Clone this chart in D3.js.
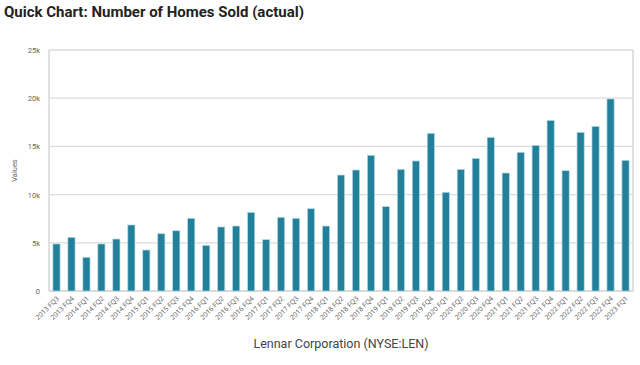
<!DOCTYPE html>
<html>
<head>
<meta charset="utf-8">
<script src="https://cdn.jsdelivr.net/npm/d3@7"></script>
<style>
  body { margin: 0; background: #fff; }
  svg { display: block; }
</style>
</head>
<body>
<svg id="chart" width="640" height="365"></svg>
<script>
// quarters shown on the x axis
const quarters = [
  "2013 FQ3", "2013 FQ4",
  "2014 FQ1", "2014 FQ2", "2014 FQ3", "2014 FQ4",
  "2015 FQ1", "2015 FQ2", "2015 FQ3", "2015 FQ4",
  "2016 FQ1", "2016 FQ2", "2016 FQ3", "2016 FQ4",
  "2017 FQ1", "2017 FQ2", "2017 FQ3", "2017 FQ4",
  "2018 FQ1", "2018 FQ2", "2018 FQ3", "2018 FQ4",
  "2019 FQ1", "2019 FQ2", "2019 FQ3", "2019 FQ4",
  "2020 FQ1", "2020 FQ2", "2020 FQ3", "2020 FQ4",
  "2021 FQ1", "2021 FQ2", "2021 FQ3", "2021 FQ4",
  "2022 FQ1", "2022 FQ2", "2022 FQ3", "2022 FQ4",
  "2023 FQ1"
];

// homes sold per quarter
const homesSold = [
  4880, 5570,
  3500, 4880, 5390, 6850,
  4250, 5940, 6250, 7540,
  4740, 6640, 6740, 8160,
  5330, 7640, 7540, 8540,
  6740, 12030, 12550, 14080,
  8750, 12620, 13490, 16360,
  10240, 12620, 13760, 15940,
  12240, 14390, 15110, 17700,
  12480, 16460, 17080, 19920,
  13560
];

const yTicks = [0, 5000, 10000, 15000, 20000, 25000];

const margin = { top: 50, right: 7, bottom: 74, left: 49 };
const width = 640, height = 365;

const svg = d3.select("#chart");

const x = d3.scaleBand()
  .domain(quarters)
  .range([margin.left, width - margin.right])
  .paddingInner(0.52)
  .paddingOuter(0.26);

const y = d3.scaleLinear()
  .domain([0, 25000])
  .range([height - margin.bottom, margin.top]);

// title
svg.append("text")
  .attr("x", 4)
  .attr("y", 17)
  .attr("font-family", "Roboto, sans-serif")
  .attr("font-weight", "bold")
  .attr("font-size", 15)
  .attr("fill", "#222")
  .text("Quick Chart: Number of Homes Sold (actual)");

// gridlines
svg.append("g")
  .selectAll("line")
  .data(yTicks.slice(1))
  .join("line")
  .attr("x1", margin.left)
  .attr("x2", width - margin.right)
  .attr("y1", d => y(d))
  .attr("y2", d => y(d))
  .attr("stroke", "#dcdcdc")
  .attr("stroke-width", 1.3);

// frame: left, right and bottom lines
const plotBottom = y(0);
svg.append("line")
  .attr("x1", margin.left).attr("x2", margin.left)
  .attr("y1", margin.top).attr("y2", plotBottom)
  .attr("stroke", "#cfcfcf").attr("stroke-width", 1.3);
svg.append("line")
  .attr("x1", width - margin.right).attr("x2", width - margin.right)
  .attr("y1", margin.top).attr("y2", plotBottom)
  .attr("stroke", "#cfcfcf").attr("stroke-width", 1.3);
svg.append("line")
  .attr("x1", margin.left).attr("x2", width - margin.right)
  .attr("y1", plotBottom).attr("y2", plotBottom)
  .attr("stroke", "#cfcfcf").attr("stroke-width", 1.3);

// y axis labels
const yAxis = d3.axisLeft(y)
  .tickValues(yTicks)
  .tickSize(0)
  .tickPadding(9)
  .tickFormat(d => d === 0 ? "0" : (d / 1000) + "k");

svg.append("g")
  .attr("transform", `translate(${margin.left},0)`)
  .call(yAxis)
  .call(g => g.select(".domain").remove())
  .selectAll("text")
  .attr("font-family", "Roboto, sans-serif")
  .attr("font-size", 7.5)
  .attr("fill", "#666");

svg.append("text")
  .attr("transform", `translate(17,${(margin.top + plotBottom) / 2}) rotate(-90)`)
  .attr("text-anchor", "middle")
  .attr("font-family", "Roboto, sans-serif")
  .attr("font-size", 7.5)
  .attr("fill", "#666")
  .text("Values");

// bars
svg.append("g")
  .selectAll("rect")
  .data(quarters.map((q, i) => ({ q, v: homesSold[i] })))
  .join("rect")
  .attr("x", d => x(d.q))
  .attr("y", d => y(d.v))
  .attr("width", x.bandwidth())
  .attr("height", d => plotBottom - y(d.v))
  .attr("fill", "#22809a")
  .attr("stroke", "#b5dbe4")
  .attr("stroke-width", 0.7);

// x axis labels, rotated
const xAxis = d3.axisBottom(x).tickSize(0).tickPadding(0);
svg.append("g")
  .attr("transform", `translate(0,${plotBottom})`)
  .call(xAxis)
  .call(g => g.select(".domain").remove())
  .selectAll("text")
  .attr("font-family", "'Open Sans', sans-serif")
  .attr("font-size", 6.8)
  .attr("fill", "#555")
  .attr("text-anchor", "end")
  .attr("dy", 0)
  .attr("transform", "translate(3,8) rotate(-45)");

// x axis title
svg.append("text")
  .attr("x", (margin.left + width - margin.right) / 2)
  .attr("y", 348)
  .attr("text-anchor", "middle")
  .attr("font-family", "Roboto, sans-serif")
  .attr("font-size", 12.5)
  .attr("fill", "#444")
  .text("Lennar Corporation (NYSE:LEN)");
</script>
</body>
</html>
